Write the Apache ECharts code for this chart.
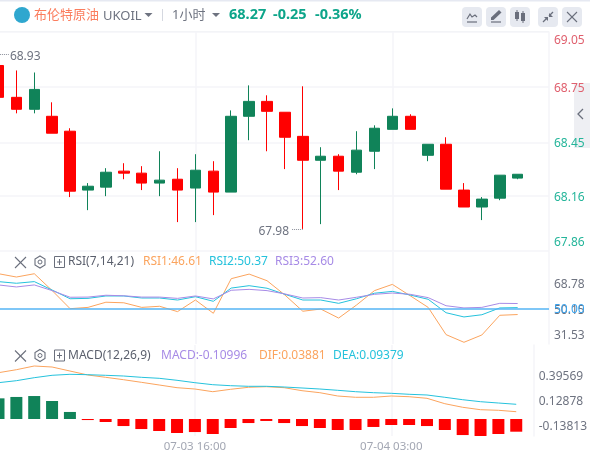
<!DOCTYPE html>
<html><head><meta charset="utf-8">
<style>html,body{margin:0;padding:0;background:#fff}#c{width:590px;height:457px}</style>
<script src="https://cdn.jsdelivr.net/npm/echarts@6/dist/echarts.min.js"></script>
</head><body><div id="c"></div>
<script>
// --- data ---
const candleIndex = [0,1,2,3,4,5,6,7,8,9,10,11,12,13,14,15,16,17,18,19,20,21,22,23,24,25,26,27,28,29];
const opens  = [68.868,68.695,68.630,68.592,68.511,68.191,68.207,68.294,68.283,68.229,68.250,68.202,68.294,68.180,68.592,68.673,68.614,68.483,68.353,68.375,68.288,68.402,68.521,68.592,68.380,68.440,68.191,68.099,68.147,68.256];
const closes = [68.695,68.630,68.738,68.500,68.185,68.212,68.288,68.283,68.229,68.245,68.191,68.299,68.180,68.592,68.673,68.619,68.478,68.353,68.375,68.294,68.408,68.527,68.592,68.521,68.440,68.196,68.099,68.142,68.272,68.277];
const lows   = [68.695,68.608,68.608,68.500,68.153,68.082,68.158,68.250,68.191,68.158,68.017,68.017,68.055,68.180,68.462,68.402,68.305,67.980,68.006,68.191,68.277,68.305,68.521,68.521,68.348,68.196,68.099,68.028,68.136,68.250];
const highs  = [68.930,68.841,68.830,68.668,68.527,68.229,68.310,68.337,68.321,68.402,68.310,68.386,68.348,68.624,68.760,68.706,68.614,68.755,68.424,68.386,68.511,68.543,68.635,68.603,68.440,68.478,68.229,68.153,68.272,68.277];
const rsi1 = [68.8,67.0,68.78,59.6,49.8,50.5,53.3,53.0,50.5,51.1,48.2,54.5,47.3,66.1,68.6,65.0,57.2,48.4,49.6,44.7,51.8,59.6,63.0,56.8,50.5,35.7,31.53,35.5,46.2,46.61];
const rsi2 = [64.5,63.6,64.5,59.9,55.2,55.4,56.7,56.7,55.6,55.6,54.5,56.3,53.8,61.0,62.3,60.9,57.6,54.5,54.5,52.7,55.2,58.2,59.2,57.2,54.9,47.6,45.3,46.5,50.2,50.37];
const rsi3 = [62.7,61.6,62.7,59.6,56.0,56.1,57.1,56.8,56.1,56.1,55.4,56.7,55.1,59.8,60.3,59.6,57.8,55.6,55.8,54.5,56.0,57.6,58.3,57.6,55.8,51.4,50.2,50.5,52.7,52.60];
const dif = [0.3286,0.3508,0.3783,0.3709,0.3412,0.3115,0.2944,0.2766,0.2572,0.2372,0.2171,0.2074,0.1874,0.2052,0.2201,0.2245,0.2171,0.1948,0.1800,0.1554,0.1458,0.1458,0.1554,0.1502,0.1383,0.0982,0.0715,0.0536,0.0492,0.03881];
const dea = [0.2543,0.2691,0.2914,0.3092,0.3167,0.3137,0.3092,0.3040,0.2944,0.2869,0.2721,0.2543,0.2394,0.2320,0.2275,0.2275,0.2223,0.2149,0.2074,0.1978,0.1874,0.1800,0.1755,0.1681,0.1629,0.1458,0.1279,0.1131,0.1034,0.09379];
const macd = [0.179,0.191,0.199,0.156,0.061,-0.009,-0.026,-0.061,-0.087,-0.104,-0.121,-0.113,-0.130,-0.078,-0.035,-0.017,-0.035,-0.061,-0.078,-0.095,-0.095,-0.069,-0.052,-0.052,-0.061,-0.095,-0.139,-0.147,-0.130,-0.10996];
const priceTicks = [67.86,68.16,68.45,68.75,69.05];
const rsiTicks = [31.53,50.15,68.78];
const macdTicks = [-0.13813,0.12878,0.39569];
const timeTicks = {11:'07-03 16:00',22:'07-04 03:00'};

const RED='#ff0000',GREEN='#108359',GRID='#f4f5f8',ORANGE='#fba45e',CYAN='#25c2dc',PURPLE='#a78be6',LABEL='#6e7380',ICON='#6a6f7c',FONT='"Noto Sans","Noto Sans CJK SC",sans-serif';
const pair=a=>a.map((v,i)=>[candleIndex[i],v]);
const xBase=(g,show,xMin,xMax)=>({type:'value',gridIndex:g,min:xMin,max:xMax,
  axisLine:{show:false},splitLine:{show:true,lineStyle:{color:GRID,width:1.5}},
  axisTick:{show:false,customValues:[11,22]},
  axisLabel:{show:show,customValues:[11,22],hideOverlap:false,color:'#a3a7b3',fontSize:11.5,fontFamily:FONT,margin:5,formatter:v=>timeTicks[v]||''}});
const labelAxis=(g,min,max,ticks,fmt,extra)=>Object.assign({type:'value',gridIndex:g,position:'right',min,max,
  axisLine:{show:true,lineStyle:{color:GRID,width:1.5}},axisTick:{show:false,customValues:ticks},splitLine:{show:false},
  axisLabel:{customValues:ticks,color:LABEL,fontSize:12,fontFamily:FONT,margin:5,formatter:fmt,showMinLabel:true,showMaxLabel:true,hideOverlap:false}},extra||{});
const hidden=(g,min,max)=>({type:'value',gridIndex:g,position:'left',min,max,show:false,splitLine:{show:false}});
const lineS=(name,x,y,data,color)=>({name,type:'line',xAxisIndex:x,yAxisIndex:y,data:pair(data),showSymbol:false,symbol:'none',smooth:false,lineStyle:{color,width:1},clip:true,silent:true,animation:false,z:3});

const txt=(x,y,text,fill,size,extra)=>({type:'text',x,y,silent:true,z:50,style:Object.assign({text,fill,font:`${size||12}px ${FONT}`,verticalAlign:'middle'},extra||{})});
const rect=(x,y,w,h,fill,r,z)=>({type:'rect',silent:true,z:z===undefined?40:z,shape:{x,y,width:w,height:h,r:r||0},style:{fill}});
const ln=(x1,y1,x2,y2,stroke,w)=>({type:'line',silent:true,z:51,shape:{x1,y1,x2,y2},style:{stroke,lineWidth:w||1}});
const pline=(points,w)=>({type:'polyline',silent:true,z:51,shape:{points},style:{fill:'none',stroke:ICON,lineWidth:w||1.2}});
const poly=(points,c)=>({type:'polygon',silent:true,z:51,shape:{points},style:{fill:c||ICON}});
const caret=(x,y,c)=>poly([[x-4,y-2],[x+4,y-2],[x,y+2]],c);
const paneIcons=y=>[
  ln(15,y-5,26,y+6,ICON,1.1),ln(26,y-5,15,y+6,ICON,1.1),
  {type:'polygon',silent:true,z:51,shape:{points:[[40,y-6],[45,y-3],[45,y+3],[40,y+6],[35,y+3],[35,y-3]]},style:{fill:'none',stroke:ICON,lineWidth:1.1}},
  {type:'circle',silent:true,z:51,shape:{cx:40,cy:y,r:2},style:{fill:'none',stroke:ICON,lineWidth:1}},
  {type:'rect',silent:true,z:51,shape:{x:54.5,y:y-5.5,width:10,height:11},style:{fill:'none',stroke:ICON,lineWidth:1}},
  ln(57,y,62,y,ICON,1),ln(59.5,y-3,59.5,y+3,ICON,1)];
const btn=x=>rect(x,7,20,20,'#e6e9f0',4);
const bold=`bold 14.5px ${FONT}`;
const graphics=[
  rect(0,0,590,1.5,'#e6e9f2'),
  rect(0,31,549,1,'#f3f4f7'),
  {type:'circle',silent:true,z:41,shape:{cx:22,cy:15,r:8},style:{fill:'#2fa7cf'}},
  rect(18,11,8,8,'#fff',1.5),rect(20.5,13.5,3,3,'#2fa7cf'),
  txt(34,15,'布伦特原油','#fb7d5e',13),
  txt(103,16,'UKOIL','#6e7380',13),
  caret(148.5,15,'#6e7380'),
  ln(162.5,9,162.5,21,'#d5d8e0',1),
  txt(172,15,'1小时','#6e7380',13),
  caret(216,15,'#6e7380'),
  txt(229,14.5,'68.27','#0da58a',13,{font:bold}),
  txt(273,14.5,'-0.25','#0da58a',13,{font:bold}),
  txt(315,14.5,'-0.36%','#0da58a',13,{font:bold}),
  btn(462),btn(486),btn(510),btn(538),btn(562),
  pline([[467,19],[470,14],[472,17],[475,15],[477,17]]),
  ln(467,22,477,22,ICON,1.2),
  poly([[491,20],[491,17.5],[499,10],[501.5,12.5],[493.5,20]]),
  ln(491,22,501,22,ICON,1.2),
  rect(515,12,4,7,ICON,0,51),ln(517,10,517,21,ICON,1),rect(521,13,4,8,ICON,0,51),ln(523,11,523,23,ICON,1),
  pline([[543,22],[547,18]]),pline([[553,12],[549,16]]),
  poly([[544,17],[548,17],[548,21]]),poly([[549,13],[549,17],[553,17]]),
  ln(567,12,577,22,ICON,1.1),ln(577,12,567,22,ICON,1.1),
  rect(574,83,16,65,'#eeeff3',0,-1),
  pline([[583,109],[578,114],[583,119]],1.3),
  ...paneIcons(262),
  txt(68,262,'RSI(7,14,21)','#5a5f6c',12),
  txt(143,262,'RSI1:46.61',ORANGE,12),txt(209,262,'RSI2:50.37',CYAN,12),txt(275,262,'RSI3:52.60',PURPLE,12),
  ...paneIcons(355.5),
  txt(68,355.5,'MACD(12,26,9)','#5a5f6c',12),
  txt(161,355.5,'MACD:-0.10996',PURPLE,12),txt(259,355.5,'DIF:0.03881',ORANGE,12),txt(333,355.5,'DEA:0.09379',CYAN,12)
];

const chart=echarts.init(document.getElementById('c'),null,{renderer:'canvas'});
const hot=(v)=>v>68.5?'#e0606e':'#25b59a';
chart.setOption({
  animation:false,backgroundColor:'#fff',
  grid:[{left:0,width:549,top:32,height:219},{left:0,width:549,top:252,height:92},{left:0,width:549,top:345,height:91}],
  xAxis:[xBase(0,false,0.0838,30.75),xBase(1,false,0.0838,30.75),xBase(2,true,0.0838,29.98)],
  yAxis:[
    labelAxis(0,67.86,69.05,priceTicks,v=>{const s=(+v).toFixed(2);return +v===priceTicks[0]?`{low|${s}}`:s;},{splitLine:{show:true,lineStyle:{color:GRID,width:1.5}},
      axisTick:{show:false,customValues:priceTicks}}),
    labelAxis(1,25.69,92.9,rsiTicks,v=>(+v).toFixed(2)),
    hidden(1,30.6,80.6),
    labelAxis(2,-0.2342,0.7374,macdTicks,v=>(+v).toFixed(5)),
    hidden(2,-0.1418,0.5344),
    hidden(2,-0.1472,0.641)
  ],
  graphic:graphics,
  series:[
    {name:'UKOIL',type:'candlestick',xAxisIndex:0,yAxisIndex:0,barWidth:11,clip:true,silent:true,
     encode:{x:0,y:[1,2,3,4]},
     itemStyle:{color:GREEN,color0:RED,borderColor:GREEN,borderColor0:RED,borderWidth:1},
     data:candleIndex.map((x,i)=>[x,opens[i],closes[i],lows[i],highs[i]]),
     markLine:{silent:true,symbol:'none',animation:false,
       lineStyle:{color:'#8a8e99',type:'dotted',width:1},
       data:[
        [{coord:[0.09,68.93],label:{show:true,position:'end',formatter:'68.93',color:LABEL,fontSize:12,fontFamily:FONT,distance:1,offset:[0,2]}},{coord:[0.58,68.93]}],
        [{coord:[16.4,67.98],label:{show:true,position:'start',formatter:'67.98',color:LABEL,fontSize:12,fontFamily:FONT,distance:3,offset:[0,3]}},{coord:[17,67.98]}]
       ]}},
    lineS('RSI1',1,2,rsi1,ORANGE),lineS('RSI2',1,2,rsi2,CYAN),lineS('RSI3',1,2,rsi3,PURPLE),
    {name:'RSI50',type:'line',xAxisIndex:1,yAxisIndex:2,data:[],markLine:{silent:true,symbol:'none',animation:false,
       lineStyle:{color:'#55b4f5',type:'solid',width:1.5},
       label:{show:true,position:'end',formatter:'50.00',color:'#3ba4ee',fontSize:12,fontFamily:FONT,distance:5,offset:[0,1]},
       data:[{yAxis:50}]}},
    {name:'MACD',type:'bar',xAxisIndex:2,yAxisIndex:5,barWidth:12,clip:true,silent:true,
     data:macd.map((v,i)=>({value:[candleIndex[i],v],itemStyle:{color:v>=0?GREEN:RED}}))},
    lineS('DIF',2,4,dif,ORANGE),lineS('DEA',2,4,dea,CYAN)
  ]
});
chart.setOption({yAxis:[{axisLabel:{color:v=>hot(+v),padding:[3,0,0,0],verticalAlignMaxLabel:'top',verticalAlignMinLabel:'bottom',rich:{low:{color:'#25b59a',fontSize:12,fontFamily:FONT,padding:[0,0,2,0]}}}}]});
</script></body></html>
